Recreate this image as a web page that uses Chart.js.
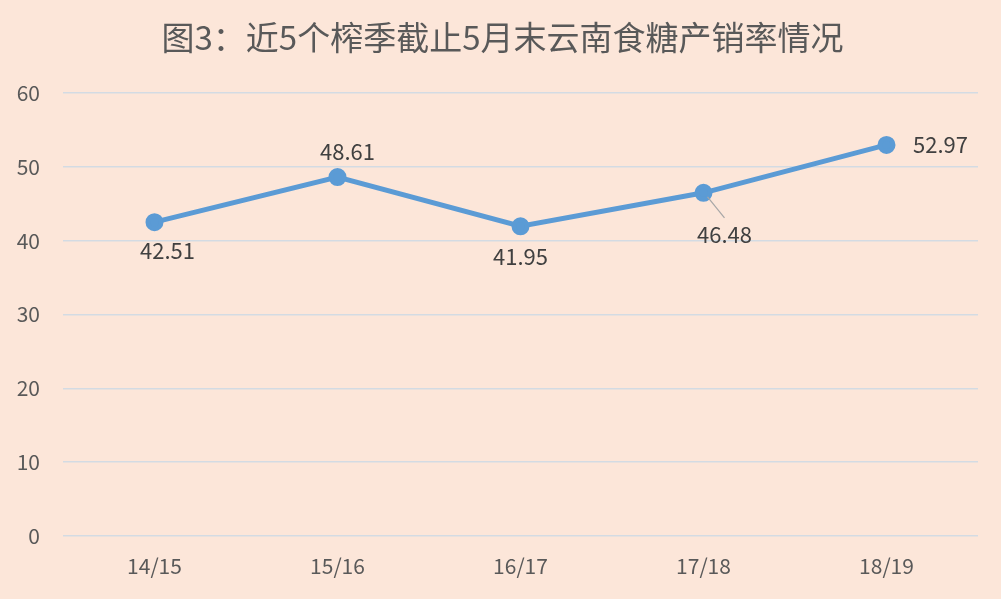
<!DOCTYPE html>
<html>
<head>
<meta charset="utf-8">
<script src="https://cdn.jsdelivr.net/npm/chart.js@4.4.1/dist/chart.umd.min.js"></script>
<style>
  html, body { margin: 0; padding: 0; background: #fce6d9; }
  #wrap { width: 1001px; height: 599px; position: relative; }
</style>
</head>
<body>
<div id="wrap"><canvas id="c"></canvas></div>
<script>
const title = "图3：近5个榨季截止5月末云南食糖产销率情况";
const seasons = ["14/15", "15/16", "16/17", "17/18", "18/19"];
const rates = [42.51, 48.61, 41.95, 46.48, 52.97];
const yTicks = [0, 10, 20, 30, 40, 50, 60];

// where each value label sits relative to its point (dx, dy in px)
const labelPos = [
  { dx: 13, dy: 29 },
  { dx: 10, dy: -25 },
  { dx: 0, dy: 30 },
  { dx: 21, dy: 42, leader: true },
  { dx: 54, dy: 0 },
];

const FONT = "'Noto Sans CJK SC', 'Noto Sans', sans-serif";
const TXT = "#595959";

const bgAndLabels = {
  id: "bgAndLabels",
  beforeDraw(chart) {
    const ctx = chart.ctx;
    ctx.save();
    ctx.fillStyle = "#fce6d9";
    ctx.fillRect(0, 0, chart.width, chart.height);
    ctx.fillStyle = TXT;
    ctx.font = "33px " + FONT;
    ctx.textAlign = "center";
    ctx.textBaseline = "middle";
    ctx.fillText(title, chart.width / 2 + 2, 37);
    ctx.restore();
  },
  afterDatasetsDraw(chart) {
    const ctx = chart.ctx;
    const meta = chart.getDatasetMeta(0);
    ctx.save();
    ctx.font = "22px " + FONT;
    ctx.fillStyle = "#404040";
    ctx.textAlign = "center";
    ctx.textBaseline = "middle";
    meta.data.forEach((pt, i) => {
      const p = labelPos[i];
      const lx = pt.x + p.dx, ly = pt.y + p.dy;
      if (p.leader) {
        ctx.strokeStyle = "#a6a6a6";
        ctx.lineWidth = 1.2;
        ctx.beginPath();
        ctx.moveTo(pt.x + 4, pt.y + 4);
        ctx.lineTo(lx, ly - 17);
        ctx.stroke();
      }
      ctx.fillText(rates[i].toFixed(2), lx, ly);
    });
    ctx.restore();
  }
};

new Chart(document.getElementById("c"), {
  type: "line",
  data: {
    labels: seasons,
    datasets: [{
      data: rates,
      borderColor: "#5b9bd5",
      backgroundColor: "#5b9bd5",
      borderWidth: 5,
      pointRadius: 6.5,
      pointHoverRadius: 6.5,
      pointBackgroundColor: "#5b9bd5",
      pointBorderColor: "#5b9bd5",
      tension: 0,
    }]
  },
  options: {
    responsive: true,
    maintainAspectRatio: false,
    animation: false,
    devicePixelRatio: 1,
    layout: { padding: { top: 93, left: 0, right: 23, bottom: 0 } },
    plugins: { legend: { display: false }, tooltip: { enabled: false } },
    scales: {
      x: {
        offset: true,
        grid: { display: false },
        border: { display: false },
        ticks: { color: TXT, font: { family: FONT, size: 21 }, padding: 9 },
        afterFit(s) { s.height = 63; },
      },
      y: {
        min: 0, max: 60,
        afterBuildTicks(s) { s.ticks = yTicks.map(v => ({ value: v })); },
        grid: { color: "#d3dbe3", lineWidth: 1.5, drawTicks: false },
        border: { display: false },
        ticks: { color: TXT, font: { family: FONT, size: 21 }, padding: 23 },
        afterFit(s) { s.width = 63; },
      }
    }
  },
  plugins: [bgAndLabels]
});
</script>
</body>
</html>
